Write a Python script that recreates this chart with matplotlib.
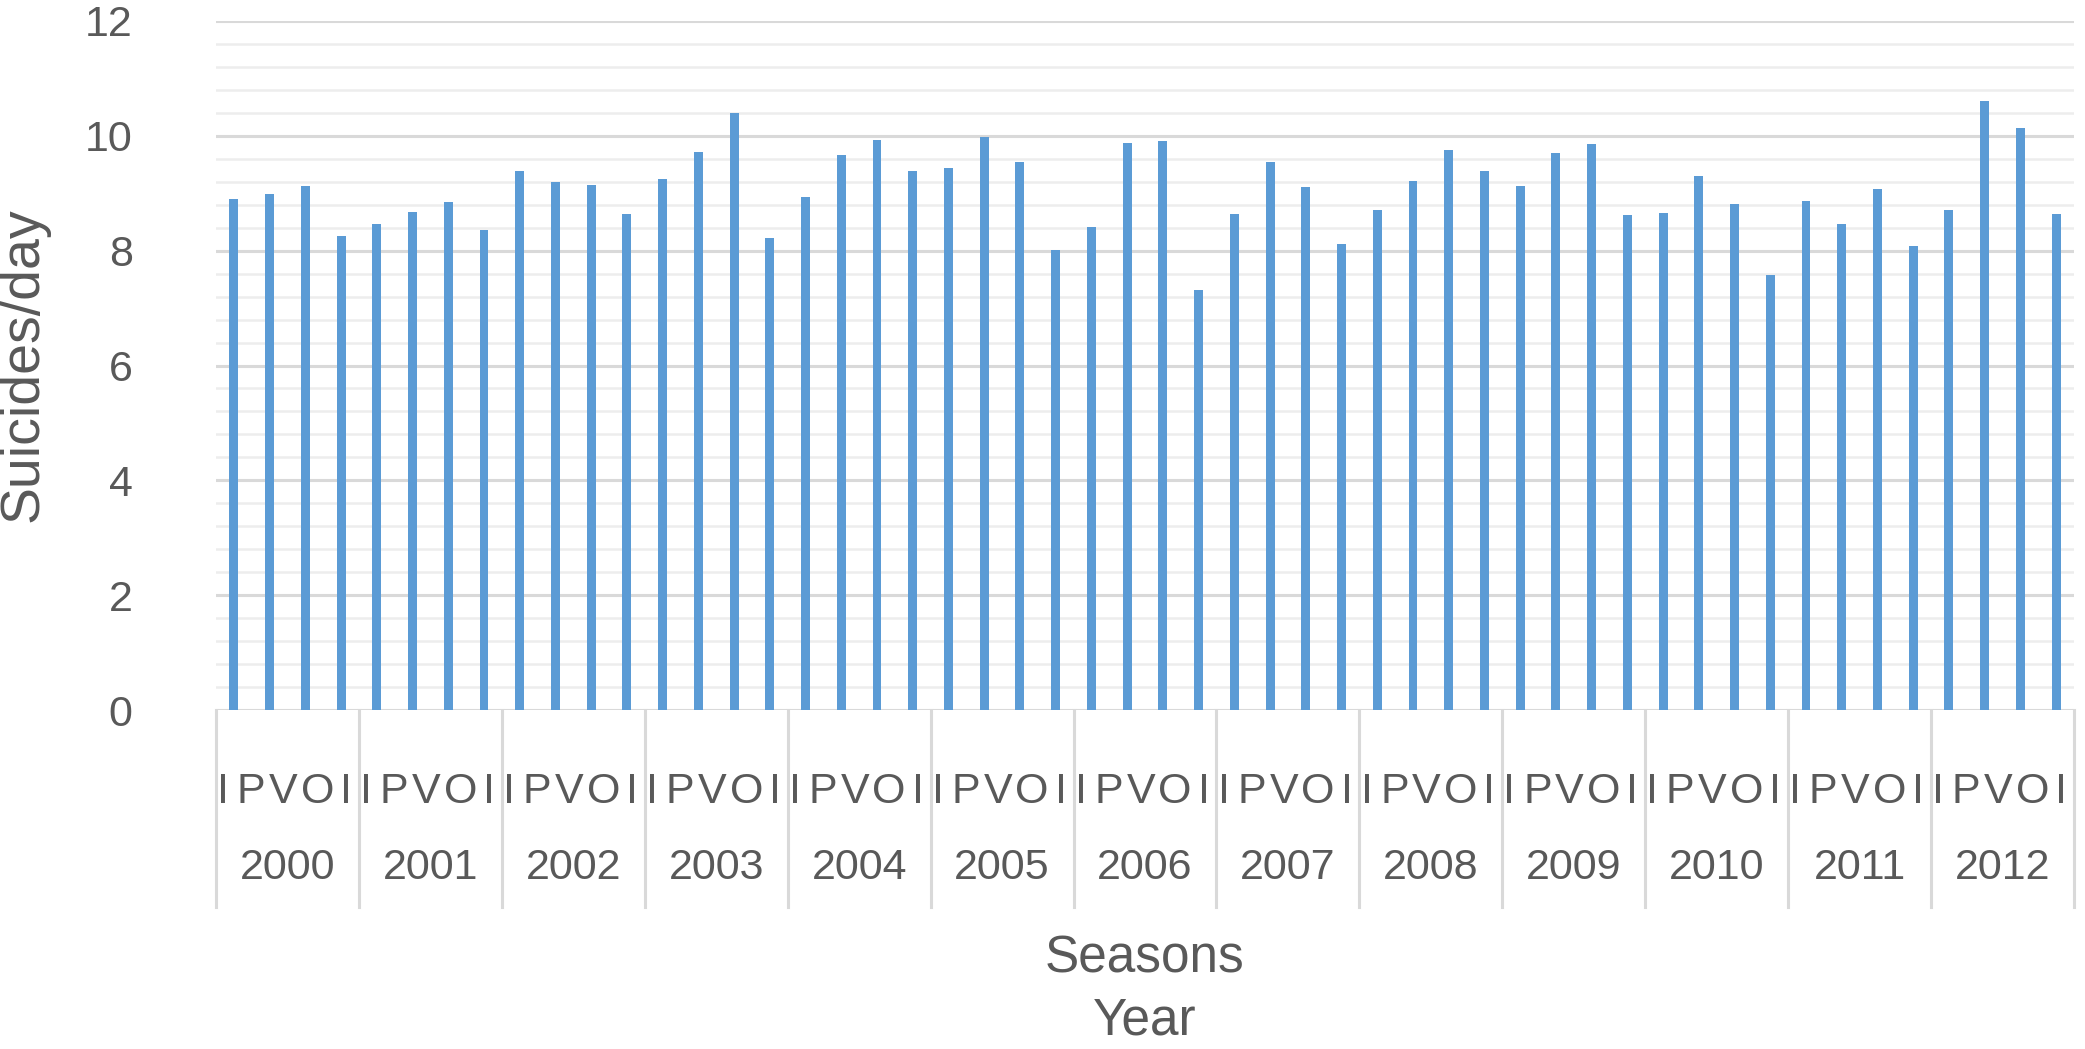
import matplotlib
matplotlib.use('Agg')
import matplotlib.pyplot as plt
import matplotlib.transforms as mtransforms
import numpy as np

plt.rcParams['font.family'] = ['Liberation Sans', 'DejaVu Sans']

years = ['2000', '2001', '2002', '2003', '2004', '2005', '2006',
         '2007', '2008', '2009', '2010', '2011', '2012']
season_letters = ['I', 'P', 'V', 'O', 'I']

# suicides/day per season, 4 per year
values = [8.90, 8.99, 9.12, 8.26,
          8.47, 8.68, 8.85, 8.36,
          9.39, 9.19, 9.14, 8.64,
          9.25, 9.72, 10.39, 8.22,
          8.94, 9.66, 9.93, 9.39,
          9.44, 9.98, 9.55, 8.01,
          8.41, 9.88, 9.91, 7.31,
          8.64, 9.54, 9.11, 8.12,
          8.70, 9.21, 9.75, 9.39,
          9.12, 9.70, 9.86, 8.62,
          8.65, 9.30, 8.81, 7.57,
          8.86, 8.47, 9.07, 8.08,
          8.71, 10.61, 10.13, 8.64]

txt = '#595959'
W, H = 2085, 1049
fig = plt.figure(figsize=(W/100, H/100), dpi=100)
left, right, top, bottom = 216, 2074, 21, 710
ax = fig.add_axes([left/W, 1-bottom/H, (right-left)/W, (bottom-top)/H])

x = np.arange(len(values))
ax.bar(x, values, width=0.25, color='#5b9bd5', zorder=3)
ax.set_xlim(-0.5, len(values)-0.5)
ax.set_ylim(0, 12)
ax.set_yticks(np.arange(0, 13, 2))
ax.set_yticks(np.arange(0, 12.01, 0.4), minor=True)
ax.grid(which='minor', axis='y', color='#ededed', lw=1.8, zorder=0)
ax.grid(which='major', axis='y', color='#d9d9d9', lw=2.2, zorder=1)
ax.set_xticks([])
ax.tick_params(axis='y', which='both', length=0)
ax.tick_params(axis='y', which='major', pad=60, labelsize=31, labelcolor=txt)
for s in ax.spines.values():
    s.set_visible(False)

# category table under the axis
trans = mtransforms.blended_transform_factory(ax.transData, ax.transAxes)
tb = -(907-bottom)/(bottom-top)
for k in range(len(years)+1):
    ax.plot([4*k-0.5, 4*k-0.5], [0, tb], color='#d9d9d9', lw=2.2,
            transform=trans, clip_on=False)
offs = [0.2, 0.98, 1.88, 2.84, 3.64]   # letter positions inside a year cell
for k, yr in enumerate(years):
    x0 = 4*k-0.5
    for o, s in zip(offs, season_letters):
        ax.text(x0+o, -(792-bottom)/(bottom-top), s, transform=trans,
                ha='center', va='center', fontsize=31, color=txt)
    ax.text(x0+2, -(868-bottom)/(bottom-top), yr, transform=trans,
            ha='center', va='center', fontsize=31, color=txt)

cxf = (left+right)/2/W
fig.text(cxf, 1-959/H, 'Seasons', ha='center', va='center', fontsize=37, color=txt)
fig.text(cxf, 1-1021/H, 'Year', ha='center', va='center', fontsize=37, color=txt)
fig.text(24/W, 1-365/H, 'Suicides/day', rotation=90, ha='center', va='center',
         fontsize=40, color=txt)

fig.savefig('out.png', dpi=100)
